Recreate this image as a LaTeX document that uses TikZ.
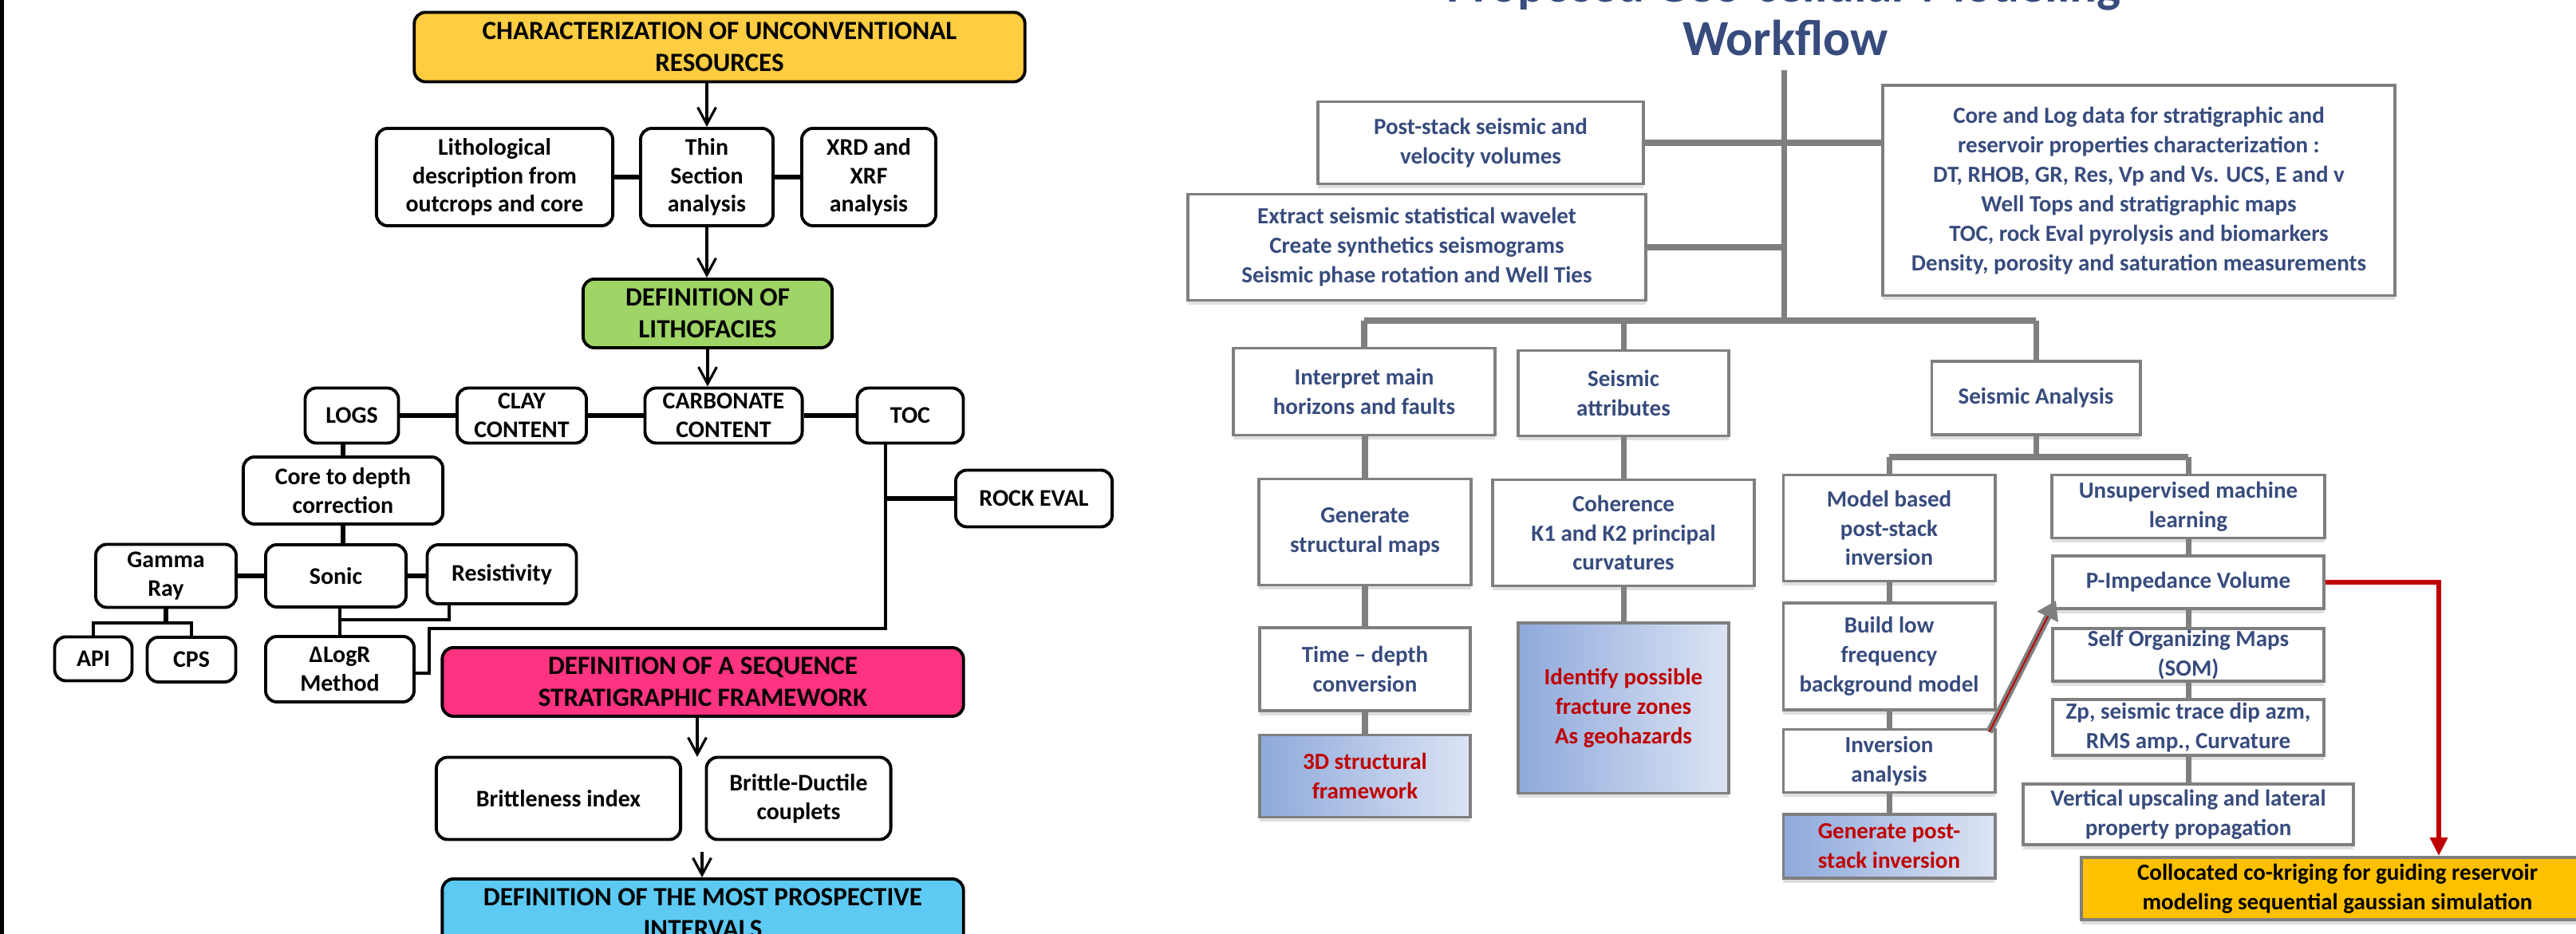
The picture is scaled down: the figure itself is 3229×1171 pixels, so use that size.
\documentclass[tikz,border=0pt]{standalone}
\usepackage{fontspec}
\setmainfont{Carlito}
\usetikzlibrary{positioning}
\usetikzlibrary{calc}
\usetikzlibrary{arrows.meta}
\usetikzlibrary{shadows}
\definecolor{navy}{RGB}{55,75,125}
\definecolor{gold}{RGB}{255,192,0}
\definecolor{darkred}{RGB}{192,0,0}
\definecolor{linegray}{RGB}{127,127,127}
\definecolor{sunyellow}{RGB}{255,205,65}
\definecolor{leafgreen}{RGB}{158,213,102}
\definecolor{hotpink}{RGB}{255,51,128}
\definecolor{skyblue}{RGB}{93,202,243}
\definecolor{paleblue}{RGB}{142,169,219}
\definecolor{mistblue}{RGB}{220,228,244}

\begin{document}
\begin{tikzpicture}[x=0.01cm, y=-0.01cm,
    lbox/.style={draw=black, line width=1.1pt, rounded corners=4pt, fill=white, align=center, inner sep=0pt, font=\fontsize{8.5}{10.2}\selectfont\bfseries},
    lhead/.style={lbox, font=\fontsize{9.4}{11.4}\selectfont\bfseries},
    kline/.style={line width=1.6pt},
    tline/.style={line width=0.9pt},
    larr/.style={line width=0.9pt, -{Straight Barb[length=6pt, width=6.5pt]}},
    rbox/.style={draw=linegray, line width=1.1pt, fill=white, align=center, inner sep=0pt, text=navy, font=\fontsize{8.25}{10.5}\selectfont\bfseries, drop shadow={shadow xshift=0pt, shadow yshift=-1.6pt, opacity=0.25}},
    hbox/.style={rbox, left color=paleblue, right color=mistblue, text=darkred},
    gline/.style={linegray, line width=2pt},
    bus/.style={linegray, line width=2.3pt}]

    \useasboundingbox (0,0) rectangle (3229,1171);
    \clip (0,0) rectangle (3229,1171);
    \fill[black] (0,0) rectangle (5,1171);

    % characterization chart
    \node[lhead, fill=sunyellow, minimum width=7.65cm, minimum height=0.87cm] (charact) at (902,59) {CHARACTERIZATION OF UNCONVENTIONAL\\RESOURCES};
    \node[lbox, minimum width=2.96cm, minimum height=1.22cm] (litho) at (620,222) {Lithological\\description from\\outcrops and core};
    \node[lbox, minimum width=1.66cm, minimum height=1.22cm] (thin) at (886,222) {Thin\\Section\\analysis};
    \node[lbox, minimum width=1.68cm, minimum height=1.22cm] (xrd) at (1089,222) {XRD and\\XRF\\analysis};
    \node[lhead, fill=leafgreen, minimum width=3.12cm, minimum height=0.86cm] (deflitho) at (887,393) {DEFINITION OF\\LITHOFACIES};

    \node[lbox, minimum width=1.17cm, minimum height=0.69cm] (logs) at (441,521) {LOGS};
    \node[lbox, minimum width=1.62cm, minimum height=0.69cm] (clay) at (654,521) {CLAY\\CONTENT};
    \node[lbox, minimum width=1.97cm, minimum height=0.69cm] (carb) at (907,521) {CARBONATE\\CONTENT};
    \node[lbox, minimum width=1.33cm, minimum height=0.69cm] (toc) at (1141,521) {TOC};
    \node[lbox, minimum width=1.96cm, minimum height=0.71cm] (rockeval) at (1296,625) {ROCK EVAL};
    \node[lbox, minimum width=2.50cm, minimum height=0.84cm] (core) at (430,615) {Core to depth\\correction};
    \node[lbox, minimum width=1.76cm, minimum height=0.79cm] (gamma) at (208,722) {Gamma\\Ray};
    \node[lbox, minimum width=1.76cm, minimum height=0.78cm] (sonic) at (421,722) {Sonic};
    \node[lbox, minimum width=1.87cm, minimum height=0.74cm] (resist) at (629,720) {Resistivity};
    \node[lbox, minimum width=0.97cm, minimum height=0.55cm] (api) at (117,826) {API};
    \node[lbox, minimum width=1.11cm, minimum height=0.56cm] (cps) at (240,827) {CPS};
    \node[lbox, minimum width=1.86cm, minimum height=0.82cm] (dlogr) at (426,839) {ΔLogR\\Method};

    \node[lhead, fill=hotpink, minimum width=6.53cm, minimum height=0.86cm] (seqfw) at (881,855) {DEFINITION OF A SEQUENCE\\STRATIGRAPHIC FRAMEWORK};
    \node[lbox, minimum width=3.06cm, minimum height=1.03cm] (brittle) at (700,1001) {Brittleness index};
    \node[lbox, minimum width=2.31cm, minimum height=1.03cm] (bductile) at (1001,1001) {Brittle-Ductile\\couplets};
    \node[lhead, fill=skyblue, minimum width=6.53cm, minimum height=0.86cm] (prosp) at (881,1145) {DEFINITION OF THE MOST PROSPECTIVE\\INTERVALS};

    \draw[larr] (thin.north |- charact.south) -- (thin.north);
    \draw[larr] (thin.south) -- (thin.south |- deflitho.north);
    \draw[larr] (deflitho.south) -- (deflitho.south |- carb.north);
    \draw[kline] (litho) -- (thin);
    \draw[kline] (thin) -- (xrd);
    \draw[kline] (logs) -- (clay);
    \draw[kline] (clay) -- (carb);
    \draw[kline] (carb) -- (toc);
    \draw[kline] (core.north |- logs.south) -- (core.north);
    \draw[kline] (core.south) -- (core.south |- sonic.north);
    \draw[kline] (gamma) -- (sonic);
    \draw[kline] (sonic.east) -- (sonic.east -| resist.west);

    \coordinate (grbar) at (208,781);
    \draw[kline] (gamma.south) -- (grbar);
    \draw[tline] (api.north) |- (grbar) -| (cps.north);
    \draw[tline] (dlogr.north) -- (dlogr.north |- sonic.south);
    \coordinate (resjoin) at (dlogr.north |- 0,777);
    \draw[tline] (resist.south -| 563,0) |- (resjoin);

    \coordinate (tocdrop) at (1110,788);
    \coordinate (toccorner) at (538,844);
    \draw[tline] (toc.south -| tocdrop) -- (tocdrop) -| (toccorner) -- (dlogr.east |- toccorner);
    \draw[kline] (rockeval.west) -- (rockeval.west -| tocdrop);

    \coordinate (gapend) at (874,949);
    \coordinate (gapstart) at (880,1068);
    \draw[larr] (seqfw.south -| gapend) -- (gapend);
    \draw[larr] (gapstart) -- (prosp.north -| gapstart);

    % geo-cellular workflow
    \node[anchor=base, text=navy, font=\fontsize{18}{21}\selectfont\bfseries] (toptitle) at (2236,3) {Proposed Geo-cellular Modeling};
    \node[anchor=base, text=navy, font=\fontsize{18}{21}\selectfont\bfseries] (wftitle) at (2238,70) {Workflow};

    \node[rbox, minimum width=4.08cm, minimum height=1.03cm] (post) at (1856,179) {Post-stack seismic and\\velocity volumes};
    \node[rbox, minimum width=5.73cm, minimum height=1.33cm] (extract) at (1776,310) {Extract seismic statistical wavelet\\Create synthetics seismograms\\Seismic phase rotation and Well Ties};
    \node[rbox, minimum width=6.41cm, minimum height=2.63cm] (coredata) at (2681,239) {Core and Log data for stratigraphic and\\reservoir properties characterization :\\DT, RHOB, GR, Res, Vp and Vs. UCS, E and v\\Well Tops and stratigraphic maps\\TOC, rock Eval pyrolysis and biomarkers\\Density, porosity and saturation measurements};

    \node[rbox, minimum width=3.27cm, minimum height=1.09cm] (interp) at (1710,491) {Interpret main\\horizons and faults};
    \node[rbox, minimum width=2.64cm, minimum height=1.07cm] (sattr) at (2035,493) {Seismic\\attributes};
    \node[rbox, minimum width=2.61cm, minimum height=0.92cm] (sanal) at (2552,499) {Seismic Analysis};

    \node[rbox, minimum width=2.66cm, minimum height=1.33cm] (genmaps) at (1711,667) {Generate\\structural maps};
    \node[rbox, minimum width=3.27cm, minimum height=1.33cm] (coher) at (2035,668) {Coherence\\K1 and K2 principal\\curvatures};
    \node[rbox, minimum width=2.65cm, minimum height=1.33cm] (model) at (2368,662) {Model based\\post-stack\\inversion};
    \node[rbox, minimum width=3.41cm, minimum height=0.79cm] (unsup) at (2743,635) {Unsupervised machine\\learning};

    \node[rbox, minimum width=2.64cm, minimum height=1.04cm] (tdconv) at (1711,839) {Time -- depth\\conversion};
    \node[hbox, minimum width=2.64cm, minimum height=1.03cm] (frame3d) at (1711,973) {3D structural\\framework};
    \node[hbox, minimum width=2.64cm, minimum height=2.13cm] (fract) at (2035,888) {Identify possible\\fracture zones\\As geohazards};
    \node[rbox, minimum width=2.65cm, minimum height=1.34cm] (buildlow) at (2368,823) {Build low\\frequency\\background model};
    \node[rbox, minimum width=2.65cm, minimum height=0.79cm] (invan) at (2368,954) {Inversion\\analysis};
    \node[hbox, minimum width=2.65cm, minimum height=0.80cm] (genpost) at (2368,1061) {Generate post-\\stack inversion};

    \node[rbox, minimum width=3.40cm, minimum height=0.66cm] (pimp) at (2743,730) {P-Impedance Volume};
    \node[rbox, minimum width=3.40cm, minimum height=0.66cm] (som) at (2743,821) {Self Organizing Maps\\(SOM)};
    \node[rbox, minimum width=3.40cm, minimum height=0.70cm] (zp) at (2743,912) {Zp, seismic trace dip azm,\\RMS amp., Curvature};
    \node[rbox, minimum width=4.13cm, minimum height=0.76cm] (vert) at (2743,1021) {Vertical upscaling and lateral\\property propagation};
    \node[rbox, fill=gold, text=black, minimum width=6.42cm, minimum height=0.78cm] (coloc) at (2930,1114) {Collocated co-kriging for guiding reservoir\\modeling sequential gaussian simulation};

    \coordinate (trunktop) at (2236,88);
    \coordinate (trunkbot) at (2236,402);
    \coordinate (anbus) at (2552,573);
    \draw[gline] (trunktop) -- (trunkbot);
    \draw[gline] (post.east) -- (post.east -| coredata.west);
    \draw[gline] (extract.east) -- (extract.east -| trunktop);
    \draw[bus] (interp.north |- trunkbot) -- (sanal.north |- trunkbot);
    \foreach \n in {interp, sattr, sanal}
        \draw[gline] (\n.north |- trunkbot) -- (\n.north);
    \draw[gline] (sanal.south) -- (sanal.south |- anbus);
    \draw[bus] (model.north |- anbus) -- (unsup.north |- anbus);
    \foreach \n in {model, unsup}
        \draw[gline] (\n.north |- anbus) -- (\n.north);
    \foreach \a/\b in {interp/genmaps, genmaps/tdconv, tdconv/frame3d, sattr/coher, coher/fract,
                       model/buildlow, buildlow/invan, invan/genpost, unsup/pimp, pimp/som, som/zp, zp/vert}
        \draw[gline] (\b.north |- \a.south) -- (\b.north);

    \coordinate (invtip) at ($(invan.north east)+(-9,5)$);
    \coordinate (pimptip) at ($(pimp.south west)+(6,-12)$);
    \draw[linegray, line width=2.6pt, -{Triangle[length=6.5pt, width=8pt]}] (invtip) -- (pimptip);
    \draw[darkred, line width=0.55pt] (invtip) -- ($(invtip)!0.88!(pimptip)$);
    \draw[darkred, line width=1.7pt, -{Triangle[length=6.5pt, width=6pt]}] (pimp.east) -| (coloc.north -| 3057,0);
\end{tikzpicture}
\end{document}
